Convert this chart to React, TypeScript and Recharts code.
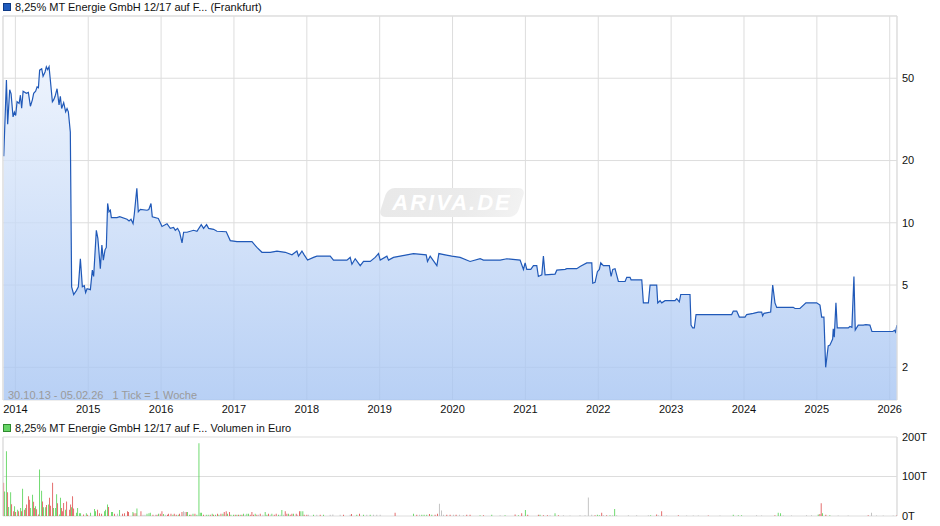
import React from 'react';
import { ComposedChart, Area, Bar, Cell, XAxis, YAxis, CartesianGrid, ReferenceLine } from 'recharts';

// x axis: decimal years, 30.10.13 - 05.02.26
const dateRange = [2013.83, 2026.1];
const yearTicks = [2014, 2015, 2016, 2017, 2018, 2019, 2020, 2021, 2022, 2023, 2024, 2025, 2026];
const priceTicks = [2, 5, 10, 20, 50];
const volumeTicks = [0, 100, 200];

const priceDates = [
  2013.840, 2013.877, 2013.894, 2013.922, 2013.941, 2013.968, 2013.986, 2014.004, 2014.023, 2014.051,
  2014.069, 2014.086, 2014.106, 2014.151, 2014.178, 2014.206, 2014.233, 2014.251, 2014.278, 2014.298,
  2014.316, 2014.333, 2014.361, 2014.380, 2014.407, 2014.425, 2014.443, 2014.462, 2014.480, 2014.508,
  2014.525, 2014.545, 2014.572, 2014.599, 2014.617, 2014.635, 2014.663, 2014.690, 2014.709, 2014.727,
  2014.754, 2014.772, 2014.800, 2014.837, 2014.864, 2014.892, 2014.919, 2014.946, 2014.964, 2014.984,
  2015.029, 2015.056, 2015.074, 2015.111, 2015.132, 2015.166, 2015.187, 2015.207, 2015.230, 2015.248,
  2015.266, 2015.285, 2015.303, 2015.317, 2015.395, 2015.431, 2015.532, 2015.560, 2015.587, 2015.615,
  2015.632, 2015.667, 2015.687, 2015.715, 2015.807, 2015.831, 2015.861, 2015.879, 2015.962, 2016.012,
  2016.081, 2016.126, 2016.171, 2016.195, 2016.226, 2016.254, 2016.287, 2016.309, 2016.355, 2016.446,
  2016.492, 2016.551, 2016.583, 2016.624, 2016.652, 2016.720, 2016.767, 2016.894, 2016.949, 2017.041,
  2017.247, 2017.315, 2017.384, 2017.498, 2017.590, 2017.704, 2017.796, 2017.864, 2017.886, 2017.933,
  2017.964, 2018.010, 2018.092, 2018.138, 2018.321, 2018.366, 2018.550, 2018.595, 2018.619, 2018.664,
  2018.733, 2018.778, 2018.870, 2018.938, 2018.984, 2019.007, 2019.099, 2019.121, 2019.189, 2019.281,
  2019.464, 2019.638, 2019.656, 2019.693, 2019.785, 2019.812, 2019.898, 2019.990, 2020.104, 2020.241,
  2020.379, 2020.424, 2020.608, 2020.653, 2020.745, 2020.927, 2020.973, 2020.996, 2021.019, 2021.074,
  2021.110, 2021.156, 2021.178, 2021.225, 2021.247, 2021.270, 2021.407, 2021.431, 2021.545, 2021.568,
  2021.705, 2021.750, 2021.842, 2021.911, 2021.924, 2021.956, 2021.988, 2022.015, 2022.034, 2022.070,
  2022.152, 2022.176, 2022.199, 2022.230, 2022.276, 2022.368, 2022.391, 2022.436, 2022.450, 2022.597,
  2022.619, 2022.688, 2022.711, 2022.802, 2022.816, 2022.848, 2022.871, 2022.916, 2023.053, 2023.077,
  2023.112, 2023.132, 2023.259, 2023.273, 2023.296, 2023.318, 2023.342, 2023.396, 2023.831, 2023.853,
  2023.900, 2023.936, 2024.014, 2024.037, 2024.127, 2024.196, 2024.243, 2024.256, 2024.274, 2024.366,
  2024.394, 2024.425, 2024.449, 2024.494, 2024.676, 2024.700, 2024.768, 2024.850, 2024.997, 2025.043,
  2025.066, 2025.097, 2025.121, 2025.156, 2025.179, 2025.217, 2025.225, 2025.239, 2025.262, 2025.280,
  2025.431, 2025.454, 2025.481, 2025.509, 2025.527, 2025.568, 2025.637, 2025.673, 2025.728, 2025.756,
  2026.043, 2026.066, 2026.080, 2026.098,
];

const priceValues = [
  21, 49, 30, 44, 42, 32.5, 34.3, 33, 38.5, 37.8,
  41.4, 35.8, 43.3, 42.3, 42.7, 36.6, 39.3, 42.3, 43.3, 45.4,
  45, 54.7, 55.6, 51.1, 53.6, 56.8, 55, 56.8, 48.9, 38.5,
  39.3, 40.9, 44.5, 37.2, 40.9, 35.7, 38.1, 34.4, 35.7, 34.4,
  27.5, 4.9, 4.5, 4.7, 4.9, 6.7, 4.9, 4.96, 4.6, 4.8,
  4.75, 5.9, 5.5, 9.2, 8.4, 6.0, 7.8, 6.6, 7.4, 7.6,
  12.4, 11.3, 11.5, 10.6, 10.6, 10.7, 10.4, 10.2, 10.4, 9.9,
  11.0, 14.7, 11.3, 11.6, 11.5, 11.6, 12.4, 10.7, 10.5, 9.6,
  9.9, 9.4, 9.5, 9.2, 9.4, 9.0, 8.0, 9.0, 9.0, 9.2,
  9.1, 9.8, 9.4, 9.8, 9.4, 9.3, 9.1, 9.05, 8.2, 8.1,
  8.1, 7.6, 7.2, 7.2, 7.3, 7.2, 7.0, 7.3, 6.9, 7.3,
  7.0, 6.6, 6.8, 6.9, 6.9, 6.6, 6.6, 6.8, 6.3, 6.7,
  6.2, 6.5, 6.5, 6.8, 7.1, 6.6, 6.9, 6.6, 6.8, 6.9,
  7.1, 7.0, 6.5, 6.9, 6.2, 7.1, 7.0, 6.9, 6.8, 6.5,
  6.7, 6.6, 6.6, 6.6, 6.7, 6.6, 5.95, 6.4, 5.95, 5.95,
  6.2, 6.2, 5.5, 5.6, 6.9, 5.6, 5.65, 5.9, 5.95, 6.0,
  6.0, 6.15, 6.4, 6.4, 5.1, 5.15, 5.8, 5.95, 6.4, 6.2,
  6.2, 5.5, 5.95, 6.0, 5.2, 5.2, 5.45, 5.45, 5.3, 5.3,
  4.1, 4.1, 5.0, 5.0, 4.1, 4.2, 4.1, 4.2, 4.2, 4.3,
  4.15, 4.5, 4.5, 3.2, 3.1, 3.1, 3.6, 3.6, 3.6, 3.74,
  3.74, 3.5, 3.5, 3.6, 3.65, 3.7, 3.7, 3.55, 3.65, 3.7,
  5.0, 4.1, 3.9, 3.9, 3.9, 3.85, 3.85, 4.1, 4.1, 4.0,
  3.5, 3.5, 2.0, 2.54, 2.56, 2.74, 3.07, 2.8, 4.1, 3.1,
  3.1, 3.15, 3.12, 5.5, 3.03, 3.2, 3.2, 3.22, 3.2, 2.98,
  2.98, 3.02, 2.96, 3.2,
];

// weekly volume in thousand euro; u = up week, d = down week, n = unchanged
const volDates = [
  2013.840, 2013.853, 2013.877, 2013.894, 2013.908, 2013.936, 2013.949, 2013.977, 2013.990, 2014.004,
  2014.032, 2014.045, 2014.073, 2014.086, 2014.100, 2014.128, 2014.141, 2014.155, 2014.182, 2014.196,
  2014.210, 2014.237, 2014.251, 2014.265, 2014.278, 2014.292, 2014.320, 2014.333, 2014.361, 2014.374,
  2014.388, 2014.416, 2014.429, 2014.457, 2014.470, 2014.484, 2014.512, 2014.525, 2014.553, 2014.567,
  2014.580, 2014.608, 2014.621, 2014.635, 2014.649, 2014.663, 2014.690, 2014.704, 2014.745, 2014.759,
  2014.772, 2014.786, 2014.800, 2014.841, 2014.855, 2014.882, 2014.896, 2014.937, 2014.974, 2014.992,
  2015.033, 2015.088, 2015.101, 2015.129, 2015.156, 2015.184, 2015.225, 2015.239, 2015.266, 2015.280,
  2015.321, 2015.335, 2015.362, 2015.403, 2015.431, 2015.472, 2015.499, 2015.540, 2015.554, 2015.614,
  2015.628, 2015.656, 2015.669, 2015.724, 2015.752, 2015.779, 2015.807, 2015.834, 2015.852, 2015.889,
  2015.925, 2015.944, 2015.966, 2015.989, 2016.012, 2016.034, 2016.058, 2016.089, 2016.103, 2016.136,
  2016.163, 2016.181, 2016.208, 2016.236, 2016.254, 2016.287, 2016.309, 2016.328, 2016.346, 2016.363,
  2016.391, 2016.410, 2016.438, 2016.465, 2016.492, 2016.520, 2016.538, 2016.555, 2016.583, 2016.620,
  2016.647, 2016.675, 2016.702, 2016.720, 2016.748, 2016.775, 2016.794, 2016.822, 2016.849, 2016.867,
  2016.894, 2016.912, 2016.940, 2016.959, 2016.995, 2017.018, 2017.041, 2017.063, 2017.086, 2017.110,
  2017.132, 2017.155, 2017.178, 2017.200, 2017.224, 2017.247, 2017.269, 2017.292, 2017.315, 2017.337,
  2017.361, 2017.398, 2017.429, 2017.453, 2017.475, 2017.498, 2017.521, 2017.553, 2017.580, 2017.612,
  2017.635, 2017.658, 2017.680, 2017.704, 2017.727, 2017.749, 2017.772, 2017.796, 2017.818, 2017.855,
  2017.872, 2017.900, 2017.919, 2017.946, 2017.964, 2018.001, 2018.023, 2018.092, 2018.138, 2018.184,
  2018.229, 2018.321, 2018.358, 2018.458, 2018.503, 2018.595, 2018.613, 2018.687, 2018.723, 2018.778,
  2018.824, 2018.870, 2018.915, 2018.961, 2019.007, 2019.212, 2019.464, 2019.510, 2019.546, 2019.579,
  2019.610, 2019.647, 2019.683, 2019.716, 2019.761, 2019.793, 2019.820, 2019.848, 2019.875, 2019.922,
  2019.967, 2020.012, 2020.049, 2020.095, 2020.149, 2020.196, 2020.241, 2020.378, 2020.424, 2020.539,
  2020.653, 2020.721, 2020.859, 2020.904, 2020.950, 2021.000, 2021.033, 2021.178, 2021.201, 2021.247,
  2021.302, 2021.339, 2021.407, 2021.453, 2021.521, 2021.613, 2021.750, 2021.819, 2021.864, 2021.911,
  2021.956, 2021.988, 2022.015, 2022.048, 2022.070, 2022.116, 2022.162, 2022.199, 2022.226, 2022.254,
  2022.413, 2022.528, 2022.687, 2022.720, 2022.802, 2022.824, 2022.871, 2022.939, 2023.099, 2023.214,
  2023.304, 2023.373, 2023.510, 2023.671, 2023.853, 2023.922, 2023.968, 2024.174, 2024.243, 2024.425,
  2024.470, 2024.503, 2024.539, 2024.654, 2024.860, 2024.928, 2025.019, 2025.042, 2025.060, 2025.079,
  2025.124, 2025.179, 2025.293, 2025.430, 2025.705, 2025.751, 2025.820, 2025.911, 2026.048, 2026.095,
];

const volValues = [
  84, 62, 164, 60, 23, 60, 30, 12, 25, 10,
  16, 12, 20, 12, 69, 16, 20, 29, 50, 41,
  20, 54, 36, 20, 25, 17, 4, 118, 64, 37,
  22, 22, 28, 29, 46, 26, 84, 20, 20, 55,
  32, 4, 46, 20, 12, 33, 16, 37, 16, 29,
  22, 50, 19, 8, 20, 7, 7, 4, 7, 3,
  8, 18, 12, 16, 7, 6, 12, 16, 29, 23,
  10, 10, 6, 6, 15, 6, 7, 12, 10, 10,
  7, 7, 19, 12, 3, 3, 6, 7, 8, 3,
  3, 3, 6, 6, 12, 5, 3, 3, 6, 6,
  3, 6, 3, 3, 6, 10, 12, 10, 10, 10,
  3, 3, 6, 6, 3, 184, 8, 8, 3, 3,
  3, 3, 6, 3, 3, 6, 3, 6, 6, 10,
  12, 6, 10, 3, 3, 3, 3, 3, 3, 3,
  6, 3, 6, 6, 3, 10, 3, 6, 3, 3,
  6, 3, 10, 3, 6, 3, 6, 3, 6, 3,
  3, 15, 3, 12, 6, 6, 3, 6, 6, 6,
  3, 12, 12, 12, 3, 3, 3, 3, 3, 3,
  3, 3, 4, 3, 3, 3, 5, 3, 6, 3,
  3, 3, 3, 3, 3, 8, 6, 3, 3, 3,
  3, 3, 5, 3, 3, 6, 31, 14, 3, 3,
  3, 3, 3, 3, 2, 3, 3, 2, 2, 3,
  2, 2, 4, 2, 7, 15, 3, 3, 3, 2,
  2, 2, 7, 2, 2, 1, 2, 2, 47, 3,
  2, 3, 2, 8, 2, 2, 2, 2, 18, 2,
  2, 2, 2, 2, 4, 2, 12, 1, 2, 1,
  1, 1, 1, 1, 3, 2, 2, 2, 1, 2,
  8, 7, 1, 1, 2, 2, 4, 5, 32, 7,
  3, 2, 1, 1, 2, 8, 1, 1, 1, 2,
];

const volDirs = [
  'd', 'u', 'u', 'd', 'u', 'u', 'd', 'd', 'u', 'd',
  'u', 'd', 'u', 'd', 'u', 'd', 'u', 'd', 'd', 'd',
  'u', 'u', 'd', 'd', 'u', 'd', 'd', 'u', 'u', 'd',
  'u', 'u', 'd', 'u', 'd', 'd', 'd', 'u', 'u', 'u',
  'd', 'u', 'u', 'd', 'd', 'd', 'u', 'd', 'd', 'd',
  'u', 'd', 'd', 'u', 'u', 'u', 'u', 'd', 'u', 'd',
  'u', 'u', 'u', 'd', 'd', 'd', 'u', 'u', 'u', 'd',
  'u', 'u', 'd', 'n', 'u', 'd', 'd', 'd', 'd', 'u',
  'd', 'd', 'u', 'd', 'n', 'n', 'u', 'u', 'u', 'd',
  'n', 'd', 'u', 'd', 'd', 'u', 'n', 'd', 'd', 'd',
  'u', 'd', 'd', 'u', 'd', 'd', 'n', 'n', 'd', 'u',
  'u', 'd', 'u', 'd', 'u', 'u', 'u', 'u', 'd', 'u',
  'u', 'd', 'u', 'd', 'u', 'd', 'u', 'd', 'u', 'd',
  'd', 'u', 'd', 'u', 'u', 'd', 'u', 'd', 'u', 'd',
  'u', 'n', 'u', 'u', 'd', 'd', 'd', 'u', 'd', 'n',
  'd', 'n', 'u', 'u', 'd', 'n', 'u', 'd', 'd', 'u',
  'n', 'u', 'n', 'd', 'd', 'u', 'd', 'd', 'u', 'd',
  'n', 'd', 'u', 'u', 'd', 'd', 'n', 'u', 'n', 'd',
  'u', 'n', 'n', 'n', 'd', 'n', 'd', 'u', 'd', 'u',
  'n', 'u', 'n', 'n', 'n', 'd', 'u', 'd', 'n', 'u',
  'u', 'u', 'd', 'u', 'd', 'd', 'n', 'n', 'n', 'd',
  'd', 'n', 'd', 'n', 'n', 'd', 'd', 'u', 'd', 'u',
  'n', 'u', 'd', 'u', 'd', 'u', 'd', 'd', 'u', 'd',
  'd', 'n', 'u', 'd', 'n', 'n', 'n', 'n', 'n', 'n',
  'd', 'u', 'u', 'd', 'n', 'd', 'u', 'n', 'u', 'n',
  'n', 'n', 'n', 'u', 'd', 'n', 'd', 'n', 'd', 'n',
  'n', 'n', 'd', 'n', 'u', 'u', 'u', 'n', 'n', 'd',
  'u', 'u', 'n', 'n', 'n', 'n', 'u', 'd', 'd', 'u',
  'd', 'u', 'n', 'n', 'd', 'n', 'n', 'n', 'n', 'd',
];

const priceData = priceDates.map((date, i) => ({ date, price: priceValues[i] }));
const volumeData = volDates.map((date, i) => ({ date, volume: volValues[i], dir: volDirs[i] }));

const DIR_COLORS: Record<string, string> = { u: '#58d458', d: '#e05555', n: '#bababa' };
const FONT = '"Liberation Sans", Arial, sans-serif';
const GRID = '#dddddd';
const tickStyle = { fontSize: 11, fill: '#111', fontFamily: FONT };

function LegendLine({ top, color, border, text }: { top: number; color: string; border: string; text: string }) {
  return (
    <div style={{ position: 'absolute', left: 0, top, height: 14, width: 600 }}>
      <div
        style={{
          position: 'absolute', left: 3, top: 3, width: 8, height: 8,
          background: color, border: `1px solid ${border}`, boxSizing: 'border-box',
        }}
      />
      <div style={{ position: 'absolute', left: 15, top: 0, fontSize: 11, lineHeight: '14px', fontFamily: FONT, color: '#111', whiteSpace: 'pre' }}>
        {text}
      </div>
    </div>
  );
}

export default function App() {
  return (
    <div style={{ position: 'absolute', left: 0, top: 0, width: 940, height: 526, background: '#fff', overflow: 'hidden' }}>
      <div style={{ position: 'absolute', left: 0, top: 0 }}>
        <ComposedChart width={940} height={420} data={priceData} margin={{ top: 16, right: 3, bottom: 0, left: 3 }}>
          <defs>
            <linearGradient id="priceFill" x1="0" y1="0" x2="0" y2="1">
              <stop offset="0%" stopColor="#e8f0fc" stopOpacity={0.78} />
              <stop offset="100%" stopColor="#a4c3f2" stopOpacity={0.78} />
            </linearGradient>
          </defs>
          <CartesianGrid stroke={GRID} />
          <XAxis
            dataKey="date" type="number" domain={dateRange} ticks={yearTicks} allowDataOverflow interval={0}
            tickLine={false} axisLine={false} tickSize={0} tickMargin={5} height={20} tick={tickStyle}
          />
          <YAxis
            orientation="right" scale="log" domain={[1.39, 100]} ticks={priceTicks} allowDataOverflow interval={0}
            tickLine={false} axisLine={false} tickSize={0} tickMargin={5} width={40} tick={tickStyle}
          />
          <ReferenceLine y={100} stroke={GRID} />
          <ReferenceLine x={dateRange[0]} stroke={GRID} />
          <ReferenceLine x={dateRange[1]} stroke={GRID} />
          <Area
            type="linear" dataKey="price" stroke="#2059b8" strokeWidth={1.2} fill="url(#priceFill)" fillOpacity={1}
            baseValue="dataMin" dot={false} activeDot={false} isAnimationActive={false}
          />
        </ComposedChart>
      </div>

      <div style={{ position: 'absolute', left: 0, top: 420 }}>
        <ComposedChart width={940} height={106} data={volumeData} margin={{ top: 17, right: 3, bottom: 10, left: 3 }}>
          <CartesianGrid stroke={GRID} />
          <XAxis
            dataKey="date" type="number" domain={dateRange} ticks={yearTicks} allowDataOverflow interval={0}
            tick={false} tickLine={false} axisLine={false} height={0}
          />
          <YAxis
            orientation="right" domain={[0, 200]} ticks={volumeTicks} interval={0} tickFormatter={(v) => `${v}T`}
            tickLine={false} axisLine={false} tickSize={0} tickMargin={5} width={40} tick={tickStyle}
          />
          <ReferenceLine x={dateRange[0]} stroke={GRID} />
          <ReferenceLine x={dateRange[1]} stroke={GRID} />
          <Bar dataKey="volume" barSize={1.5} isAnimationActive={false}>
            {volumeData.map((d, i) => (
              <Cell key={i} fill={DIR_COLORS[d.dir]} />
            ))}
          </Bar>
        </ComposedChart>
      </div>

      <LegendLine top={0} color="#1f5bbd" border="#0e3a86" text="8,25% MT Energie GmbH 12/17 auf F... (Frankfurt)" />
      <LegendLine top={421} color="#66d466" border="#2f8a2f" text="8,25% MT Energie GmbH 12/17 auf F... Volumen in Euro" />

      <div style={{ position: 'absolute', left: 8, top: 388, fontSize: 11, lineHeight: '14px', fontFamily: FONT, color: '#9a9a9a', whiteSpace: 'pre' }}>
        {'30.10.13 - 05.02.26   1 Tick = 1 Woche'}
      </div>

      {/* watermark */}
      <div
        style={{
          position: 'absolute', left: 383, top: 188, width: 138, height: 29, borderRadius: 7,
          transform: 'skewX(-18deg)', background: 'linear-gradient(90deg, #e9e9e9 0%, #ebebeb 60%, #f2f2f2 100%)',
        }}
      />
      <div
        style={{
          position: 'absolute', left: 384, top: 189, width: 136, height: 28, textAlign: 'center',
          fontFamily: FONT, fontStyle: 'italic', fontWeight: 'bold', fontSize: 22, lineHeight: '28px', letterSpacing: 2, color: '#ffffff',
        }}
      >
        ARIVA.DE
      </div>
    </div>
  );
}
